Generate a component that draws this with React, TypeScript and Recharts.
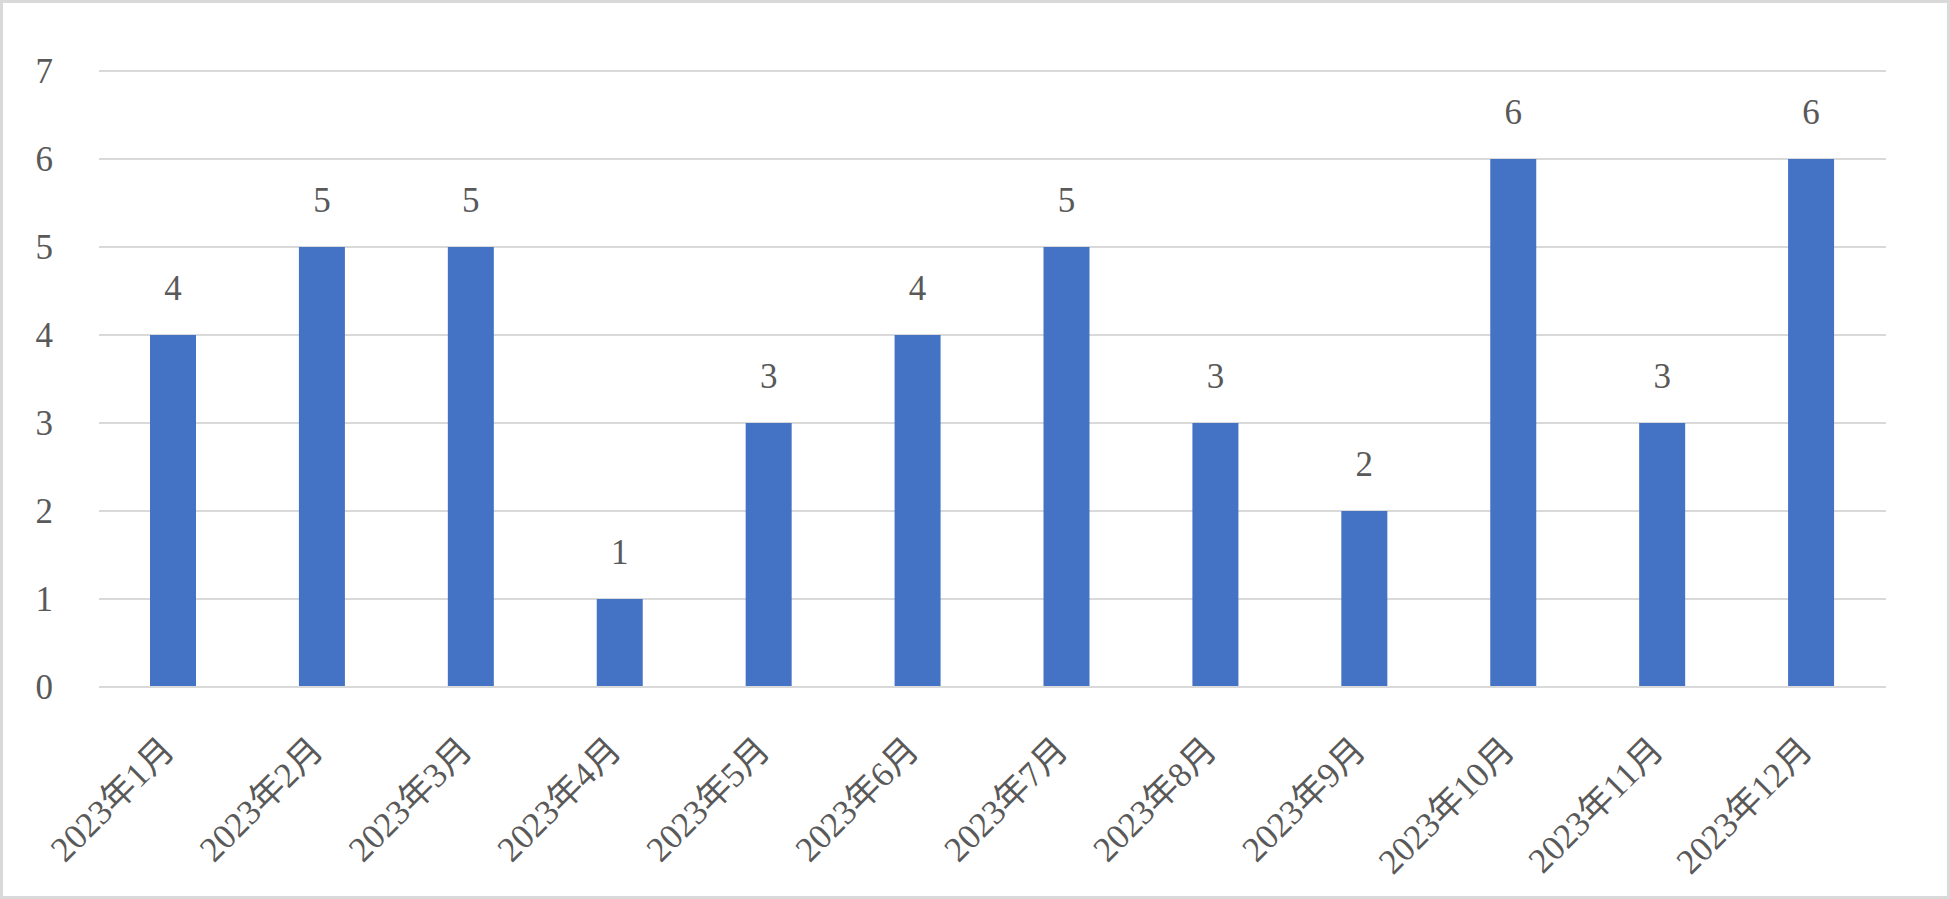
import { BarChart, Bar, XAxis, YAxis, CartesianGrid, LabelList } from "recharts";

const months = [
  "2023年1月",
  "2023年2月",
  "2023年3月",
  "2023年4月",
  "2023年5月",
  "2023年6月",
  "2023年7月",
  "2023年8月",
  "2023年9月",
  "2023年10月",
  "2023年11月",
  "2023年12月",
];
const counts = [4, 5, 5, 1, 3, 4, 5, 3, 2, 6, 3, 6];
const yTicks = [0, 1, 2, 3, 4, 5, 6, 7];

const data = months.map((name, i) => ({ name, value: counts[i] }));

const FONT = "'Liberation Serif', 'Noto Sans CJK JP', serif";
const TEXT = "#595959";
const GRID = "#d9d9d9";

function MonthTick(props: any) {
  const { x, y, payload } = props;
  const tx = x + 3;
  const ty = y + 65;
  return (
    <text
      x={tx}
      y={ty}
      transform={`rotate(-45, ${tx}, ${ty})`}
      textAnchor="end"
      fill={TEXT}
      fontSize={35}
      fontFamily={FONT}
    >
      {payload.value}
    </text>
  );
}

export default function App() {
  return (
    <div style={{ position: "absolute", left: 0, top: 0, width: 1950, height: 899, background: "#fff" }}>
      <BarChart
        width={1950}
        height={899}
        data={data}
        margin={{ top: 71, right: 64, left: 0, bottom: 0 }}
      >
        <CartesianGrid vertical={false} stroke={GRID} strokeWidth={2} />
        <XAxis
          dataKey="name"
          height={212}
          tickLine={false}
          tickSize={0}
          tickMargin={0}
          axisLine={{ stroke: GRID, strokeWidth: 2 }}
          tick={<MonthTick />}
          interval={0}
        />
        <YAxis
          width={99}
          domain={[0, 7]}
          ticks={yTicks}
          axisLine={false}
          tickLine={false}
          tickSize={0}
          tickMargin={46}
          tick={{ fill: TEXT, fontSize: 35, fontFamily: FONT }}
        />
        <Bar dataKey="value" fill="#4472C4" barSize={46} isAnimationActive={false}>
          <LabelList
            dataKey="value"
            position="top"
            offset={35}
            fill={TEXT}
            fontSize={35}
            fontFamily={FONT}
          />
        </Bar>
      </BarChart>
      <div
        style={{
          position: "absolute",
          inset: 0,
          border: "3px solid #d9d9d9",
          pointerEvents: "none",
        }}
      />
    </div>
  );
}
